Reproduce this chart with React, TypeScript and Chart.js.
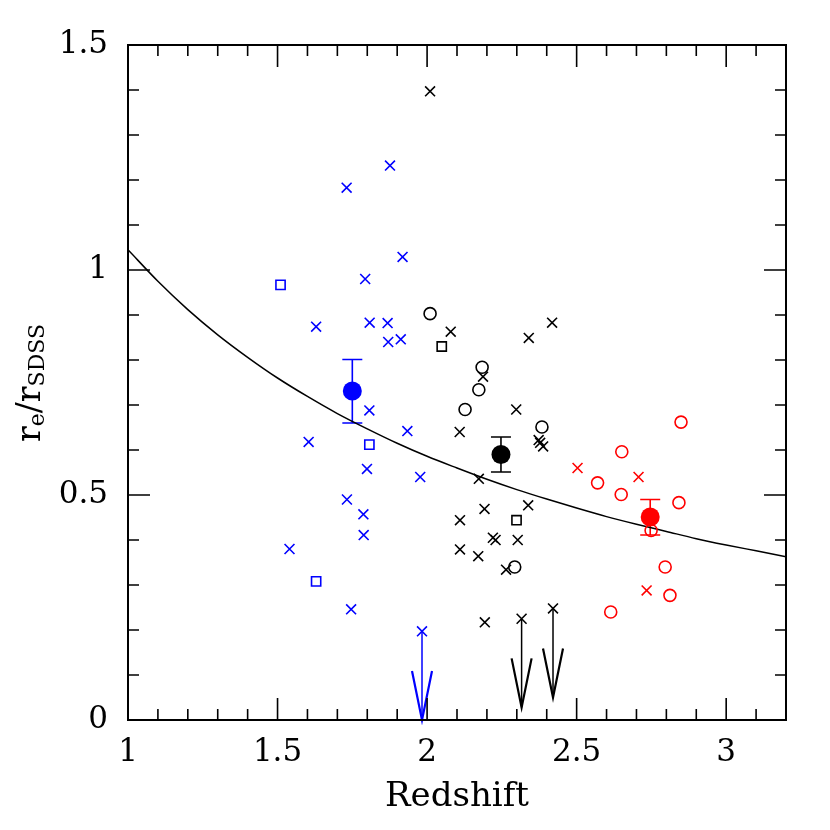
import React, { useEffect, useRef } from "react";
import { Chart, registerables } from "chart.js";

Chart.register(...registerables);

// ---- axis ranges & tick labels ----
const X_MIN = 1;
const X_MAX = 3.2;
const Y_MIN = 0;
const Y_MAX = 1.5;
const X_TICKS = [1, 1.5, 2, 2.5, 3];
const Y_TICKS = [0, 0.5, 1, 1.5];
const X_TITLE = "Redshift";

// ---- blue (z ~ 1.5-2) sample ----
const blueCrossX = [1.876, 1.731, 1.918, 1.793, 1.629, 1.808, 1.868, 1.870, 1.912, 1.807, 1.934, 1.604, 1.799, 1.977, 1.732, 1.787, 1.788, 1.540, 1.746, 1.983];
const blueCrossY = [1.232, 1.183, 1.029, 0.980, 0.874, 0.883, 0.882, 0.840, 0.846, 0.688, 0.642, 0.618, 0.558, 0.540, 0.490, 0.457, 0.411, 0.380, 0.246, 0.197];
const blueSquareX = [1.510, 1.807, 1.629];
const blueSquareY = [0.967, 0.612, 0.308];

// ---- black (z ~ 2-2.5) sample ----
const blackCrossX = [2.010, 2.079, 2.418, 2.340, 2.187, 2.298, 2.109, 2.373, 2.378, 2.388, 2.173, 2.192, 2.338, 2.110, 2.220, 2.229, 2.303, 2.110, 2.171, 2.264, 2.193, 2.316, 2.421];
const blackCrossY = [1.397, 0.863, 0.883, 0.849, 0.763, 0.690, 0.640, 0.622, 0.616, 0.608, 0.536, 0.469, 0.477, 0.444, 0.405, 0.400, 0.400, 0.379, 0.364, 0.334, 0.217, 0.225, 0.248];
const blackCircleX = [2.010, 2.184, 2.173, 2.127, 2.384, 2.293];
const blackCircleY = [0.903, 0.784, 0.734, 0.690, 0.651, 0.340];
const blackSquareX = [2.049, 2.299];
const blackSquareY = [0.830, 0.444];

// ---- red (z ~ 2.5-3) sample ----
const redCrossX = [2.503, 2.707, 2.734];
const redCrossY = [0.560, 0.540, 0.288];
const redCircleX = [2.849, 2.651, 2.570, 2.649, 2.842, 2.749, 2.796, 2.812, 2.614];
const redCircleY = [0.662, 0.596, 0.527, 0.501, 0.483, 0.421, 0.340, 0.277, 0.240];

// ---- binned means with error bars ----
const meanX = [1.75, 2.247, 2.746];
const meanY = [0.731, 0.590, 0.451];
const meanLo = [0.660, 0.551, 0.411];
const meanHi = [0.801, 0.629, 0.490];
const meanGroup = ["blue", "black", "red"];

// ---- upper limits (arrows) ----
const limitX = [1.983, 2.316, 2.421];
const limitFrom = [0.197, 0.225, 0.248];
const limitTo = [0.0, 0.028, 0.05];
const limitGroup = ["blue", "black", "black"];

// ---- model curve ----
const curveX = [1.0, 1.1, 1.2, 1.3, 1.4, 1.5, 1.6, 1.7, 1.8, 1.9, 2.0, 2.1, 2.2, 2.3, 2.4, 2.5, 2.6, 2.7, 2.8, 2.9, 3.0, 3.1, 3.2];
const curveY = [1.045, 0.975, 0.912, 0.856, 0.806, 0.760, 0.719, 0.681, 0.647, 0.615, 0.586, 0.560, 0.535, 0.512, 0.491, 0.471, 0.452, 0.435, 0.419, 0.403, 0.389, 0.376, 0.363];

const COLORS: Record<string, string> = { blue: "#0000ff", black: "#000000", red: "#ff0000" };
const SERIF = "'DejaVu Serif', serif";

const pts = (xs: number[], ys: number[]) => xs.map((x, i) => ({ x, y: ys[i] }));

const decorPlugin = {
  id: "decor",
  beforeDatasetsDraw(chart: any) {
    const { ctx, scales } = chart;
    const xs = scales.x, ys = scales.y;
    ctx.save();
    ctx.lineWidth = 1.6;
    meanX.forEach((mx, i) => {
      const px = xs.getPixelForValue(mx);
      const t = ys.getPixelForValue(meanHi[i]);
      const b = ys.getPixelForValue(meanLo[i]);
      ctx.strokeStyle = COLORS[meanGroup[i]];
      ctx.beginPath();
      ctx.moveTo(px, t); ctx.lineTo(px, b);
      ctx.moveTo(px - 10, t); ctx.lineTo(px + 10, t);
      ctx.moveTo(px - 10, b); ctx.lineTo(px + 10, b);
      ctx.stroke();
    });
    ctx.restore();
  },
  afterDatasetsDraw(chart: any) {
    const { ctx, scales, chartArea } = chart;
    const xs = scales.x, ys = scales.y;
    const { left, right, top, bottom } = chartArea;
    ctx.save();
    // arrows
    limitX.forEach((lx, i) => {
      const px = xs.getPixelForValue(lx);
      const p0 = ys.getPixelForValue(limitFrom[i]);
      const p1 = ys.getPixelForValue(limitTo[i]);
      ctx.strokeStyle = COLORS[limitGroup[i]];
      ctx.lineWidth = 1.5;
      ctx.beginPath();
      ctx.moveTo(px, p0); ctx.lineTo(px, p1);
      ctx.stroke();
      ctx.lineWidth = 2.2;
      ctx.beginPath();
      ctx.moveTo(px - 10, p1 - 49); ctx.lineTo(px, p1); ctx.lineTo(px + 10, p1 - 49);
      ctx.stroke();
    });
    // frame
    ctx.strokeStyle = "#000";
    ctx.lineWidth = 2;
    ctx.strokeRect(left, top, right - left, bottom - top);
    // ticks
    ctx.lineWidth = 1.6;
    ctx.beginPath();
    for (let i = 10; i <= 32; i++) {
      const v = i / 10;
      const major = X_TICKS.some((t) => Math.abs(t - v) < 1e-6);
      const len = major ? 22 : 11;
      const px = xs.getPixelForValue(v);
      ctx.moveTo(px, bottom); ctx.lineTo(px, bottom - len);
      ctx.moveTo(px, top); ctx.lineTo(px, top + len);
    }
    for (let i = 0; i <= 15; i++) {
      const v = i / 10;
      const major = Y_TICKS.some((t) => Math.abs(t - v) < 1e-6);
      const len = major ? 22 : 11;
      const py = ys.getPixelForValue(v);
      ctx.moveTo(left, py); ctx.lineTo(left + len, py);
      ctx.moveTo(right, py); ctx.lineTo(right - len, py);
    }
    ctx.stroke();
    // x title
    ctx.fillStyle = "#000";
    ctx.font = `34px ${SERIF}`;
    ctx.textAlign = "center";
    ctx.textBaseline = "alphabetic";
    ctx.fillText(X_TITLE, (left + right) / 2, 806);
    // y title with subscripts
    const parts = [
      { t: "r", s: 33, dy: 0 },
      { t: "e", s: 22, dy: 4 },
      { t: "/", s: 33, dy: 0 },
      { t: "r", s: 33, dy: 0 },
      { t: "SDSS", s: 22, dy: 4 },
    ];
    let total = 0;
    const widths = parts.map((p) => {
      ctx.font = `${p.s}px ${SERIF}`;
      const w = ctx.measureText(p.t).width;
      total += w;
      return w;
    });
    ctx.translate(40, 383);
    ctx.rotate(-Math.PI / 2);
    ctx.textAlign = "left";
    let cx = -total / 2;
    parts.forEach((p, i) => {
      ctx.font = `${p.s}px ${SERIF}`;
      ctx.fillText(p.t, cx, p.dy);
      cx += widths[i];
    });
    ctx.restore();
  },
};

export default function App() {
  const ref = useRef<HTMLCanvasElement>(null);
  useEffect(() => {
    if (!ref.current) return;
    const cross = (color: string) => ({ pointStyle: "crossRot", pointRadius: 7, borderColor: color, backgroundColor: color, pointBorderWidth: 1.6 });
    const circle = (color: string) => ({ pointStyle: "circle", pointRadius: 6, borderColor: color, backgroundColor: "rgba(0,0,0,0)", pointBorderWidth: 1.6 });
    const square = (color: string) => ({ pointStyle: "rect", pointRadius: 6.5, borderColor: color, backgroundColor: "rgba(0,0,0,0)", pointBorderWidth: 1.6 });
    const chart = new Chart(ref.current, {
      type: "scatter",
      data: {
        datasets: [
          { label: "means", data: pts(meanX, meanY), pointStyle: "circle", pointRadius: 9.5, pointBackgroundColor: meanGroup.map((g) => COLORS[g]), pointBorderColor: meanGroup.map((g) => COLORS[g]), pointBorderWidth: 0, order: 0 } as any,
          { label: "blue x", data: pts(blueCrossX, blueCrossY), ...cross(COLORS.blue), order: 1 } as any,
          { label: "blue sq", data: pts(blueSquareX, blueSquareY), ...square(COLORS.blue), order: 1 } as any,
          { label: "black x", data: pts(blackCrossX, blackCrossY), ...cross(COLORS.black), order: 1 } as any,
          { label: "black o", data: pts(blackCircleX, blackCircleY), ...circle(COLORS.black), order: 1 } as any,
          { label: "black sq", data: pts(blackSquareX, blackSquareY), ...square(COLORS.black), order: 1 } as any,
          { label: "red x", data: pts(redCrossX, redCrossY), ...cross(COLORS.red), order: 1 } as any,
          { label: "red o", data: pts(redCircleX, redCircleY), ...circle(COLORS.red), order: 1 } as any,
          { type: "line", label: "model", data: pts(curveX, curveY), borderColor: "#000", borderWidth: 1.5, pointRadius: 0, tension: 0.4, cubicInterpolationMode: "monotone", fill: false, order: 5 } as any,
        ],
      },
      options: {
        responsive: false,
        animation: false,
        devicePixelRatio: 1,
        layout: { padding: { left: 0, top: 45, right: 44, bottom: 0 } },
        plugins: { legend: { display: false }, tooltip: { enabled: false }, title: { display: false } },
        scales: {
          x: {
            type: "linear",
            min: X_MIN,
            max: X_MAX,
            grid: { display: false, drawTicks: false },
            border: { display: false },
            afterFit: (s: any) => { s.height = 110; },
            ticks: {
              stepSize: 0.5,
              includeBounds: false,
              maxRotation: 0,
              autoSkip: false,
              padding: 14,
              color: "#000",
              font: { family: SERIF, size: 31 },
              callback: (v: any) => String(Number(v)),
            },
          },
          y: {
            type: "linear",
            min: Y_MIN,
            max: Y_MAX,
            grid: { display: false, drawTicks: false },
            border: { display: false },
            afterFit: (s: any) => { s.width = 128; },
            ticks: {
              stepSize: 0.5,
              includeBounds: false,
              autoSkip: false,
              padding: 20,
              color: "#000",
              font: { family: SERIF, size: 31 },
              callback: (v: any) => String(Number(v)),
            },
          },
        },
      } as any,
      plugins: [decorPlugin],
    });
    return () => chart.destroy();
  }, []);
  return (
    <div style={{ position: "absolute", left: 0, top: 0, width: 830, height: 830, background: "#fff" }}>
      <canvas ref={ref} width={830} height={830} style={{ width: 830, height: 830 }} />
    </div>
  );
}
